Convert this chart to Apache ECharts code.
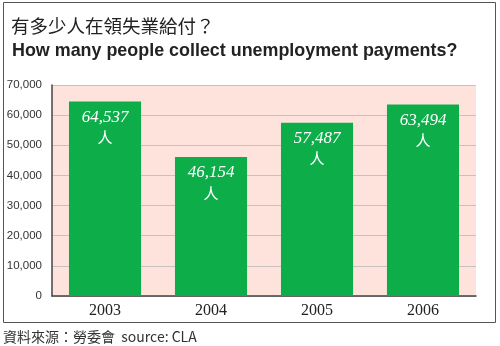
<!DOCTYPE html>
<html><head><meta charset="utf-8">
<script src="https://cdn.jsdelivr.net/npm/echarts@6/dist/echarts.min.js"></script>
<style>html,body{margin:0;padding:0;background:#fff}#c{width:500px;height:346px}</style>
</head><body><div id="c"></div>
<script>
var categories = ['2003', '2004', '2005', '2006'];
var recipients = [64537, 46154, 57487, 63494];
var yTicks = [0, 10000, 20000, 30000, 40000, 50000, 60000, 70000];

var chart = echarts.init(document.getElementById('c'));
function fmt(v){ return v.toLocaleString('en-US'); }
chart.setOption({
  animation: false,
  backgroundColor: '#fff',
  graphic: [
    { type: 'rect', shape: { x: 3.5, y: 2.5, width: 492, height: 320 }, style: { fill: 'none', stroke: '#555', lineWidth: 1 }, z: -1 },
    { type: 'text', left: 11, top: 17, style: { text: '有多少人在領失業給付？', fill: '#222', font: '18.5px "Noto Sans CJK TC", sans-serif' } },
    { type: 'text', left: 12, top: 42, style: { text: 'How many people collect unemployment payments?', fill: '#222', font: 'bold 17.9px "Liberation Sans", Arial, sans-serif' } },
    { type: 'text', left: 3, top: 330, style: { text: '資料來源：勞委會  source: CLA', fill: '#333', font: '14px "Noto Sans CJK TC", "Liberation Sans", sans-serif' } }
  ],
  grid: { left: 52, right: 24, top: 85, bottom: 50, show: true, backgroundColor: '#fde3dc', borderWidth: 0 },
  xAxis: {
    type: 'category', data: categories,
    axisLine: { show: true, lineStyle: { color: '#444', width: 1.5 } },
    axisTick: { show: false },
    axisLabel: { color: '#222', fontFamily: '"Liberation Serif", "DejaVu Serif", serif', fontSize: 16, margin: 7 }
  },
  yAxis: {
    type: 'value', min: 0, max: 70000, interval: 10000,
    axisLine: { show: true, lineStyle: { color: '#444', width: 1.5 } },
    axisTick: { show: false },
    splitLine: { lineStyle: { color: '#c9c0c0', width: 1 } },
    axisLabel: { color: '#333', fontFamily: 'Liberation Sans, Arial, sans-serif', fontSize: 11.5, margin: 10,
      formatter: function (v) { return yTicks.indexOf(v) >= 0 ? fmt(v) : ''; } }
  },
  series: [{
    type: 'bar', data: recipients, barWidth: '68%',
    itemStyle: { color: '#0dae4a' },
    label: {
      show: true, position: 'insideTop', distance: 6,
      formatter: function (p) { return '{n|' + fmt(p.value) + '}\n{p|人}'; },
      rich: {
        n: { color: '#fff', fontFamily: '"Liberation Serif", "DejaVu Serif", serif', fontStyle: 'italic', fontSize: 17, lineHeight: 20 },
        p: { color: '#fff', fontFamily: '"Noto Sans CJK TC", serif', fontSize: 15, lineHeight: 20 }
      }
    }
  }]
});
</script></body></html>
